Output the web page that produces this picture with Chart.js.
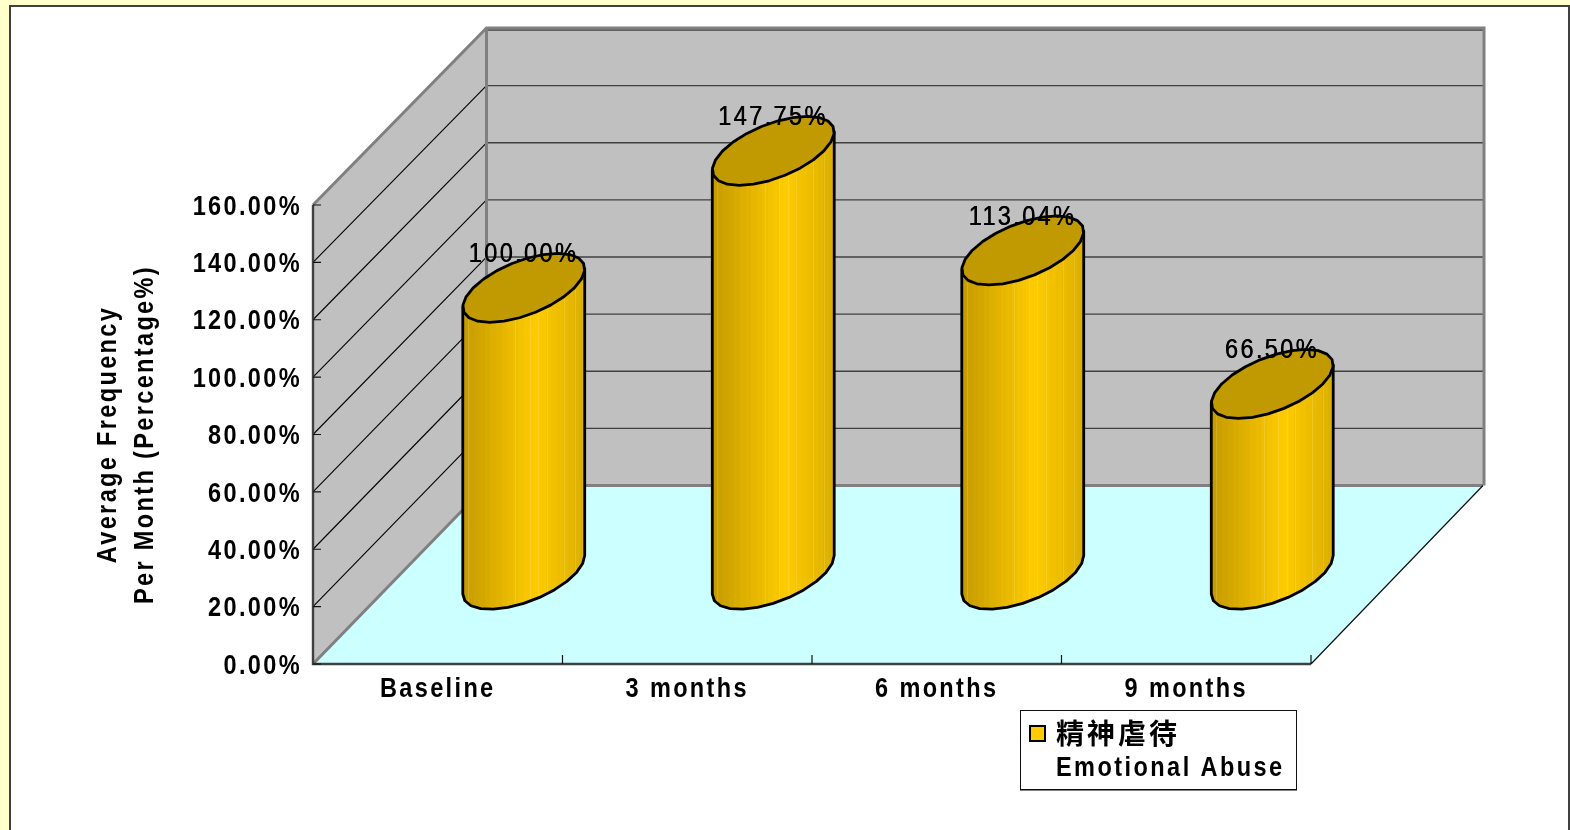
<!DOCTYPE html>
<html>
<head>
<meta charset="utf-8">
<style>
html,body{margin:0;padding:0;background:#FFFFCC;overflow:hidden}
#wrap{position:absolute;left:0;top:0;width:1570px;height:830px}
</style>
<script src="https://cdn.jsdelivr.net/npm/chart.js@4/dist/chart.umd.min.js"></script>
</head>
<body>
<div id="wrap"><canvas id="c" width="1570" height="830"></canvas></div>
<script>
const categories = ["Baseline", "3 months", "6 months", "9 months"];
const emotionalAbuse = [100.00, 147.75, 113.04, 66.50];
const seriesName = "精神虐待";
const seriesNameEn = "Emotional Abuse";
const axisTitleLines = ["Average Frequency", "Per Month (Percentage%)"];
const yMin = 0, yMax = 160, yStep = 20;

const FONT = '"Liberation Sans",Arial,sans-serif';
const DEPTH = {x: 172, y: -178.5};
const BACK_LEFT_EXTRA = 1.5;
const BACK_HEIGHT_RATIO = 0.9956;
const R = {u: 50.6, dx: 34, dy: -34.5};
const SPACING = '2.8px';

// The reference type is horizontally condensed: squeeze every text run around its anchor.
const canvasEl = document.getElementById('c');
const ctx2d = canvasEl.getContext('2d');
let textScaleX = 0.84;
const TEXT_DY = 2;
const rawFillText = ctx2d.fillText.bind(ctx2d);
ctx2d.fillText = function (text, x, y, maxW) {
  ctx2d.save();
  ctx2d.translate(x, y + TEXT_DY);
  ctx2d.scale(textScaleX, 1);
  if (maxW === undefined) rawFillText(text, 0, 0); else rawFillText(text, 0, 0, maxW);
  ctx2d.restore();
};

function steppedGradient(ctx, x0, x1) {
  const g = ctx.createLinearGradient(x0, 0, x1, 0);
  const bands = 22;
  const dark = [196, 154, 0], bright = [255, 204, 0], end = [218, 174, 0];
  for (let i = 0; i < bands; i++) {
    const f = (i + 0.5) / bands;
    const p = 0.6;
    const a = f < p ? dark : end;
    const t = f < p ? f / p : 1 - (f - p) / (1 - p);
    const c = a.map((v, k) => Math.round(v + (bright[k] - v) * t));
    const col = `rgb(${c[0]},${c[1]},${c[2]})`;
    g.addColorStop(i / bands, col);
    g.addColorStop((i + 1) / bands, col);
  }
  return g;
}

function ell(cx, cy, t) {
  return [cx + R.u * Math.cos(t) + R.dx * Math.sin(t), cy + R.dy * Math.sin(t)];
}

const panelPlugin = {
  id: 'panel',
  beforeDraw(chart) {
    const c = chart.ctx;
    c.save();
    c.fillStyle = '#FFFFCC';
    c.fillRect(0, 0, 1570, 830);
    c.fillStyle = '#FFFFFF';
    c.fillRect(10, 6, 1558, 824);
    c.strokeStyle = '#404040';
    c.lineWidth = 2;
    c.beginPath();
    c.moveTo(10, 830); c.lineTo(10, 6); c.lineTo(1569, 6); c.lineTo(1569, 830);
    c.stroke();
    c.restore();
    c.letterSpacing = SPACING;
  }
};

const wallsPlugin = {
  id: 'walls',
  beforeDatasetsDraw(chart) {
    const c = chart.ctx;
    const xs = chart.scales.x, ys = chart.scales.y;
    const L = xs.left, Rt = xs.right;
    const y0 = ys.getPixelForValue(yMin), yT = ys.getPixelForValue(yMax);
    const d = DEPTH;
    const backY = y => y0 + d.y + (y - y0) * BACK_HEIGHT_RATIO;
    const bL = L + d.x + BACK_LEFT_EXTRA, bR = Rt + d.x;
    const bB = backY(y0), bT = backY(yT);
    c.save();
    c.fillStyle = '#CCFFFF';
    c.beginPath();
    c.moveTo(L, y0); c.lineTo(Rt, y0); c.lineTo(bR, bB); c.lineTo(bL, bB);
    c.closePath(); c.fill();
    c.fillStyle = '#C0C0C0';
    c.beginPath();
    c.moveTo(L, y0); c.lineTo(bL, bB); c.lineTo(bL, bT); c.lineTo(L, yT);
    c.closePath(); c.fill();
    c.fillRect(bL, bT, bR - bL, bB - bT);
    // grid on the side wall and the back wall
    ys.ticks.forEach(t => {
      if (t.value === yMin) return;
      const y = ys.getPixelForValue(t.value);
      const by = backY(y);
      if (t.value !== yMax) {
        c.strokeStyle = '#000000'; c.lineWidth = 1.1;
        c.beginPath();
        c.moveTo(L, y); c.lineTo(bL, by);
        c.stroke();
      }
      const off = t.value === yMax ? 1.5 : 0;
      c.strokeStyle = '#404040'; c.lineWidth = 1.4;
      c.beginPath();
      c.moveTo(bL, by + off); c.lineTo(bR, by + off);
      c.stroke();
    });
    // wall edges
    c.strokeStyle = '#808080';
    c.lineWidth = 3;
    c.beginPath();
    c.moveTo(bL, bB); c.lineTo(bL, bT);
    c.moveTo(L, yT); c.lineTo(bL, bT - 0.5); c.lineTo(bR + 1, bT - 0.5);
    c.lineTo(bR + 1, bB);
    c.moveTo(L, y0); c.lineTo(bL, bB); c.lineTo(bR, bB);
    c.stroke();
    // front axes
    c.strokeStyle = '#404040';
    c.lineWidth = 2.4;
    c.beginPath();
    c.moveTo(L, yT); c.lineTo(L, y0); c.lineTo(Rt, y0);
    c.stroke();
    c.strokeStyle = '#101010';
    c.lineWidth = 1.2;
    c.beginPath();
    c.moveTo(Rt, y0); c.lineTo(bR, bB);
    ys.ticks.forEach(t => {
      const y = ys.getPixelForValue(t.value);
      c.moveTo(L, y); c.lineTo(L + 8, y);
    });
    const n = categories.length;
    for (let i = 1; i <= n; i++) {
      const x = L + (Rt - L) * i / n;
      c.moveTo(x, y0); c.lineTo(x, y0 - 9);
    }
    c.stroke();
    c.restore();
  }
};

const stripeFractions = [0.04, 0.43, 0.55, 0.62, 0.69, 0.83, 0.92];

const cylinderPlugin = {
  id: 'cylinders',
  afterDatasetsDraw(chart) {
    const c = chart.ctx;
    const meta = chart.getDatasetMeta(0);
    const t0 = Math.atan2(R.dx, R.u);
    const steps = 24;
    c.save();
    meta.data.forEach((bar, i) => {
      const cx = bar.x + DEPTH.x / 2;
      const baseY = bar.base + DEPTH.y / 2;
      const topY = bar.y + DEPTH.y / 2;
      const xExt = Math.hypot(R.u, R.dx);
      const body = new Path2D();
      const a = ell(cx, topY, t0);
      body.moveTo(a[0], a[1]);
      for (let s = 0; s <= steps / 2; s++) {
        const p = ell(cx, baseY, t0 - Math.PI * s / (steps / 2));
        body.lineTo(p[0], p[1]);
      }
      const b = ell(cx, topY, t0 - Math.PI);
      body.lineTo(b[0], b[1]);
      body.closePath();
      c.fillStyle = steppedGradient(c, cx - xExt, cx + xExt);
      c.fill(body);
      c.save();
      c.clip(body);
      c.strokeStyle = 'rgba(255,235,150,0.22)';
      c.lineWidth = 1;
      stripeFractions.forEach(f => {
        const x = Math.round(cx - xExt + 2 * xExt * f) + 0.5;
        c.beginPath(); c.moveTo(x, topY); c.lineTo(x, baseY + 40); c.stroke();
      });
      c.restore();
      c.strokeStyle = '#000000';
      c.lineWidth = 2.8;
      c.lineJoin = 'round';
      c.stroke(body);
      c.beginPath();
      for (let s = 0; s < steps; s++) {
        const p = ell(cx, topY, 2 * Math.PI * s / steps);
        s === 0 ? c.moveTo(p[0], p[1]) : c.lineTo(p[0], p[1]);
      }
      c.closePath();
      c.fillStyle = '#C09A00';
      c.fill();
      c.stroke();
      // value label
      c.fillStyle = '#000000';
      c.font = '400 28px ' + FONT;
      c.textAlign = 'center';
      c.textBaseline = 'middle';
      const txt = emotionalAbuse[i].toFixed(2) + '%';
      c.fillText(txt, cx - 0.5, topY - 35.5);
      c.fillText(txt, cx, topY - 35.5);
    });
    c.restore();
  }
};

const legendPlugin = {
  id: 'legendBox',
  afterDatasetsDraw(chart) {
    const c = chart.ctx;
    const color = chart.data.datasets[0].legendColor;
    c.save();
    c.fillStyle = '#FFFFFF';
    c.fillRect(1020, 710, 277, 80);
    c.strokeStyle = '#101010';
    c.lineWidth = 1;
    c.strokeRect(1020.5, 710.5, 276, 79);
    c.strokeStyle = '#808080';
    c.beginPath(); c.moveTo(1020, 790.5); c.lineTo(1297, 790.5); c.stroke();
    c.fillStyle = color;
    c.strokeStyle = '#000000';
    c.lineWidth = 2;
    c.fillRect(1030, 726, 15, 15);
    c.strokeRect(1030, 726, 15, 15);
    c.fillStyle = '#000000';
    c.textAlign = 'left';
    c.textBaseline = 'middle';
    textScaleX = 1;
    c.letterSpacing = '3px';
    c.font = '700 28px "Noto Sans CJK TC","Noto Sans CJK SC",sans-serif';
    c.fillText(seriesName, 1056, 731);
    textScaleX = 0.84;
    c.letterSpacing = '2.9px';
    c.font = '700 28px ' + FONT;
    c.fillText(seriesNameEn, 1056, 766);
    c.restore();
  }
};

new Chart(canvasEl, {
  type: 'bar',
  data: {
    labels: categories,
    datasets: [{
      label: seriesName + ' ' + seriesNameEn,
      data: emotionalAbuse,
      backgroundColor: 'rgba(0,0,0,0)',
      borderWidth: 0,
      legendColor: '#FFCC00'
    }]
  },
  plugins: [panelPlugin, wallsPlugin, cylinderPlugin, legendPlugin],
  options: {
    responsive: false,
    animation: false,
    devicePixelRatio: 1,
    layout: {padding: {left: 88, top: 205, right: 259, bottom: 120}},
    plugins: {legend: {display: false}, tooltip: {enabled: false}},
    scales: {
      x: {
        type: 'category',
        grid: {display: false},
        border: {display: false},
        ticks: {color: '#000', padding: -2, maxRotation: 0, font: {family: FONT, size: 28, weight: '700'}},
        afterFit(s) { s.height = 46; }
      },
      y: {
        type: 'linear',
        min: yMin, max: yMax,
        grid: {display: false},
        border: {display: false},
        ticks: {
          stepSize: yStep, color: '#000', padding: 3,
          font: {family: FONT, size: 28, weight: '700'},
          callback: v => v.toFixed(2) + '%'
        },
        title: {
          display: true,
          text: axisTitleLines,
          color: '#000',
          font: {family: FONT, size: 28, weight: '700', lineHeight: 1.32},
          padding: 0
        },
        afterFit(s) { s.width = 313 - 88; }
      }
    }
  }
});
</script>
</body>
</html>
